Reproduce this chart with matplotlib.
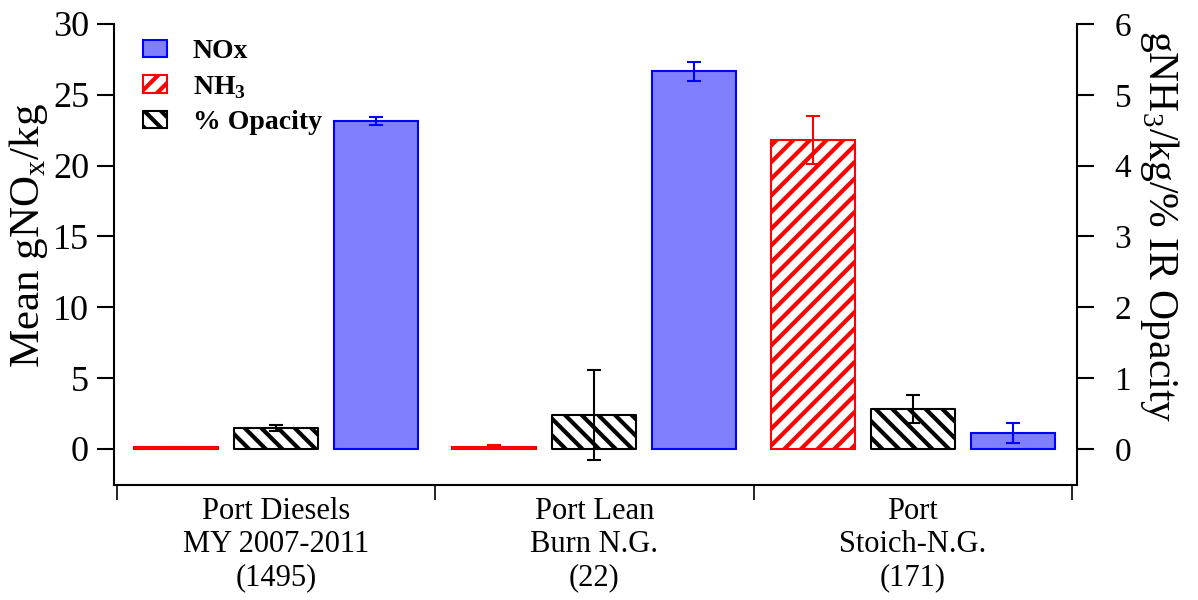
import numpy as np
import matplotlib
matplotlib.use("Agg")
import matplotlib.pyplot as plt

plt.rcParams['font.family'] = ['Liberation Serif', 'DejaVu Serif']
plt.rcParams['mathtext.fontset'] = 'custom'
plt.rcParams['mathtext.rm'] = 'Liberation Serif'
plt.rcParams['mathtext.bf'] = 'Liberation Serif:bold'
plt.rcParams['hatch.linewidth'] = 3.0

# --- data --- #
categories = ["Port Diesels\nMY 2007-2011\n(1495)",
              "Port Lean\nBurn N.G.\n(22)",
              "Port\nStoich-N.G.\n(171)"]
nox = [23.15, 26.65, 1.1]          # left axis, g NOx / kg
nox_err = [0.3, 0.68, 0.7]
nh3 = [0.025, 0.03, 4.36]          # right axis, g NH3 / kg
nh3_err = [0.005, 0.03, 0.34]
opacity = [0.30, 0.48, 0.56]       # right axis, % IR opacity
opacity_err = [0.04, 0.64, 0.2]

x = np.arange(len(categories))
offset = 0.314
width = 0.264

fig = plt.figure(figsize=(11.98, 6.0), dpi=100)
ax = fig.add_axes([0.0952, 0.1917, 0.8038, 0.7683])
ax2 = ax.twinx()

err_kw = dict(capsize=5, elinewidth=1.5, capthick=1.5)

# NOx on the left axis
b_nox = ax.bar(x + offset, nox, width, color='#8080ff', edgecolor='#0000ff',
               linewidth=1.5, label='NOx')
ax.errorbar(x + offset, nox, yerr=nox_err, fmt='none', ecolor='#0000ff', **err_kw)

# NH3 and opacity on the right axis
b_nh3 = ax2.bar(x - offset, nh3, width, color='white', edgecolor='red',
                hatch='//', linewidth=1.5, label='NH$_\\mathbf{3}$')
ax2.errorbar(x - offset, nh3, yerr=nh3_err, fmt='none', ecolor='red', **err_kw)
b_op = ax2.bar(x, opacity, width, color='white', edgecolor='black',
               hatch='\\\\', linewidth=1.5, joinstyle='round', label='% Opacity')
ax2.errorbar(x, opacity, yerr=opacity_err, fmt='none', ecolor='black', **err_kw)

# axes limits
ax.set_xlim(-0.509, 2.516)
ax.set_ylim(-2.54, 30)
ax2.set_ylim(-0.508, 6)

# spines
for a in (ax, ax2):
    a.spines['top'].set_visible(False)
    for s in a.spines.values():
        s.set_linewidth(1.5)
ax.spines['right'].set_visible(False)
ax2.spines['left'].set_visible(False)
ax2.spines['bottom'].set_visible(False)

# y ticks
ax.set_yticks(np.arange(0, 31, 5))
ax.tick_params(axis='y', direction='out', length=12, width=1.5, labelsize=26, pad=6)
ax2.set_yticks(np.arange(0, 7, 1))
ax2.tick_params(axis='y', direction='out', length=12, width=1.5, labelsize=24, pad=15)

# x ticks: major at group boundaries, labels on minor ticks at centres
ax.set_xticks([-0.5, 0.5, 1.5, 2.5])
ax.set_xticklabels([])
ax.set_xticks(x, minor=True)
ax.set_xticklabels(categories, minor=True, fontsize=22, linespacing=1.17)
ax.tick_params(axis='x', which='major', direction='out', length=11, width=1.2)
ax.tick_params(axis='x', which='minor', length=0, pad=9)

ax.set_ylabel('Mean gNO$_\\mathregular{x}$/kg', fontsize=31,
              ha='center', va='center')
ax.yaxis.set_label_coords(-0.089, 0.542)
ax2.set_ylabel('gNH$_\\mathregular{3}$/kg/% IR Opacity', fontsize=30,
               rotation=270, ha='center', va='center')
ax2.yaxis.set_label_coords(1.086, 0.562)

leg = ax2.legend(handles=[b_nox, b_nh3, b_op], loc='upper left',
                 bbox_to_anchor=(0.03, 0.967), frameon=False,
                 prop={'weight': 'bold', 'size': 20},
                 handlelength=0.86, handleheight=0.6, handletextpad=0.93,
                 labelspacing=0.35, borderpad=0, borderaxespad=0)

fig.savefig('out.png', dpi=100)
